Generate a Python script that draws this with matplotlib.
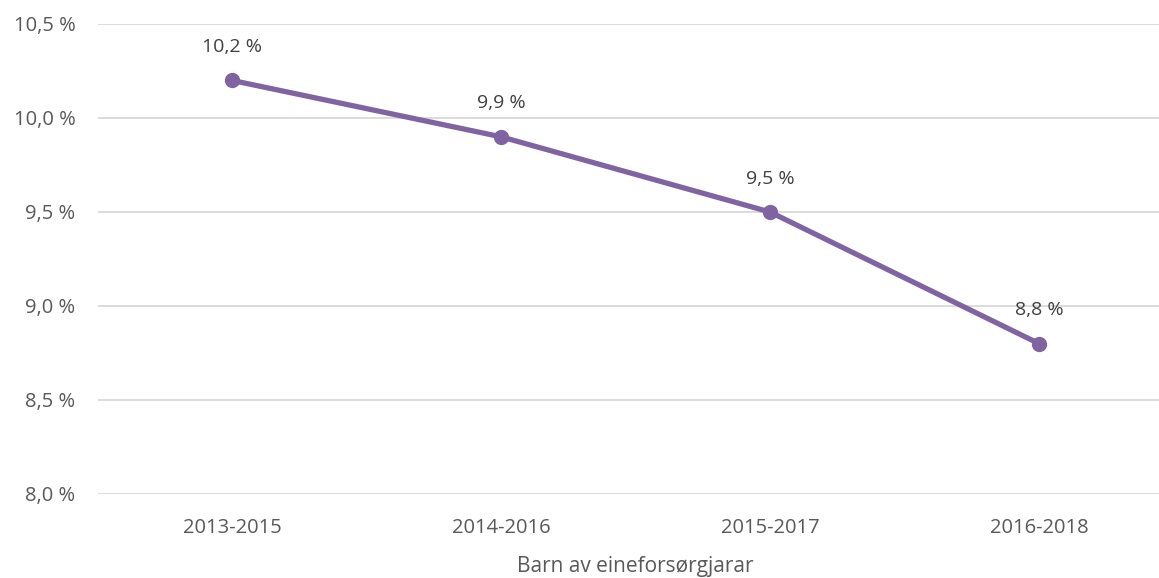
import matplotlib.pyplot as plt
from matplotlib.ticker import FuncFormatter

# data
periods = ['2013-2015', '2014-2016', '2015-2017', '2016-2018']
share = [10.2, 9.9, 9.5, 8.8]
yticks = [8.0, 8.5, 9.0, 9.5, 10.0, 10.5]
xtitle = 'Barn av eineforsørgjarar'

plt.rcParams['font.family'] = ['Open Sans', 'DejaVu Sans']
txt = '#595959'
purple = '#8064A2'

fig = plt.figure(figsize=(11.59, 5.78), dpi=100)
# plot area runs past the right edge, as in the original
ax = fig.add_axes([97.5/1159, 84/578, 1076/1159, 470/578])

x = range(len(periods))
ax.plot(x, share, color=purple, lw=3.8, marker='o', ms=10, zorder=3,
        solid_capstyle='round')

def pct(v, pos=None):
    return f'{v:.1f}'.replace('.', ',') + ' %'

for xi, v in zip(x, share):
    ax.annotate(pct(v), (xi, v), xytext=(0, 24), textcoords='offset points',
                ha='center', va='center', fontsize=14, color='#404040')

ax.set_xlim(-0.5, len(periods) - 0.5)
ax.set_ylim(8.0, 10.5)
ax.set_yticks(yticks)
ax.yaxis.set_major_formatter(FuncFormatter(pct))
ax.set_xticks(list(x))
ax.set_xticklabels(periods)
ax.grid(axis='y', color='#D9D9D9', lw=1.3)
ax.set_axisbelow(True)
for s in ax.spines.values():
    s.set_visible(False)
ax.tick_params(length=0, labelsize=14.5, colors=txt)
ax.tick_params(axis='x', pad=17)
ax.tick_params(axis='y', pad=16)
ax.set_xlabel(xtitle, fontsize=15, color=txt, labelpad=13)

fig.savefig('out.png', dpi=100)
